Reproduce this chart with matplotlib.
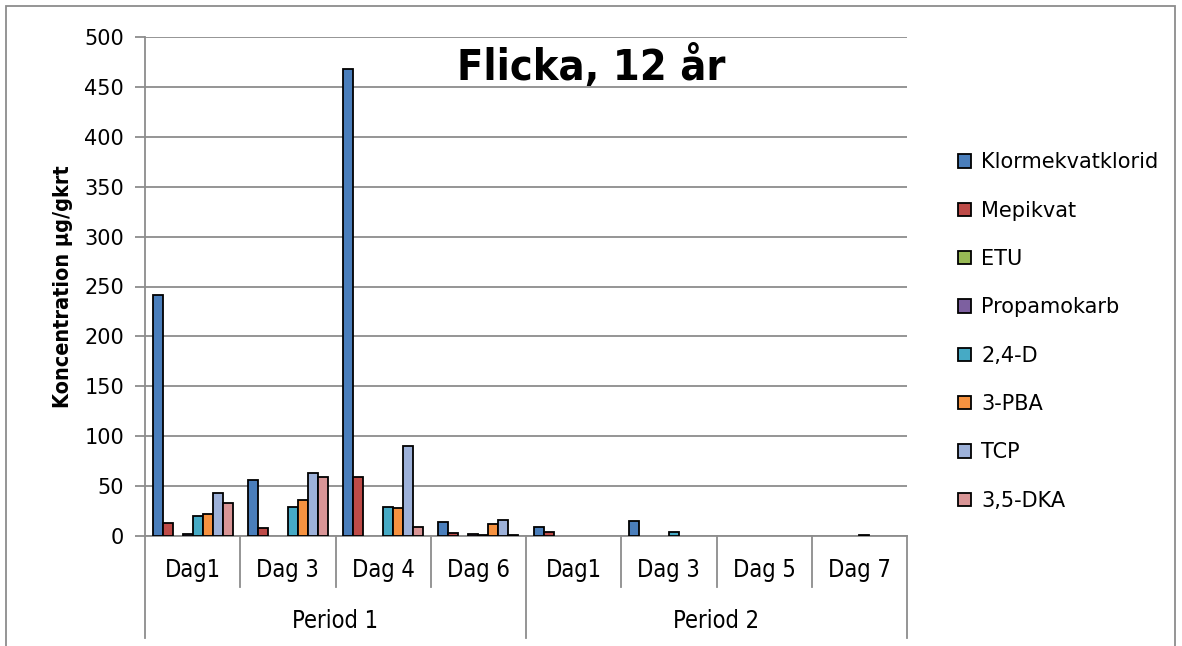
import numpy as np
import matplotlib.pyplot as plt
from matplotlib.patches import Rectangle
import matplotlib.transforms as mtransforms

dagar = ["Dag1", "Dag 3", "Dag 4", "Dag 6", "Dag1", "Dag 3", "Dag 5", "Dag 7"]
perioder = ["Period 1", "Period 2"]
serier = ["Klormekvatklorid", "Mepikvat", "ETU", "Propamokarb",
          "2,4-D", "3-PBA", "TCP", "3,5-DKA"]

klormekvat = [241, 56, 468, 14, 9, 15, 0, 0]
mepikvat = [13, 8, 59, 3, 4, 0, 0, 0]
etu = [0, 0, 0, 0, 0, 0, 0, 0]
propamokarb = [2, 0, 0, 2.5, 0, 0, 0, 0]
d24 = [20, 29, 29, 1.5, 0, 4, 0, 1]
pba = [22, 36, 28, 12, 0, 0, 0, 0]
tcp = [43, 63, 90, 16, 0, 0, 0, 0]
dka = [33, 59, 9, 1, 0, 0, 0, 0]

farger = ["#4A7EBB", "#BE4B48", "#98B954", "#7D60A0",
          "#46AAC5", "#F69240", "#9DB1D9", "#D99596"]

grid_col = "#8C8C8C"

fig = plt.figure(figsize=(11.82, 6.46), dpi=100)
ax = fig.add_axes([145/1182, 1-536/646, (907-145)/1182, (536-37)/646])

data = [klormekvat, mepikvat, etu, propamokarb, d24, pba, tcp, dka]
x = np.arange(len(dagar))
w = 0.105
for i, (namn, vals) in enumerate(zip(serier, data)):
    vals = np.array(vals, dtype=float)
    vals[vals == 0] = np.nan  # nollvärden ritas inte
    ax.bar(x - 0.84/2 + w/2 + i*w, vals, width=w, color=farger[i],
           edgecolor="black", linewidth=1.3, label=namn, zorder=3)

ax.set_xlim(-0.5, 7.5)
ax.set_ylim(0, 500)
ax.set_yticks(range(0, 501, 50))
ax.yaxis.grid(True, color=grid_col, linewidth=1.3, zorder=0)
ax.set_xticks([])
for s in ["top", "right", "left"]:
    ax.spines[s].set_visible(False)
ax.spines["bottom"].set_color(grid_col)
ax.spines["bottom"].set_linewidth(1.3)
ax.tick_params(axis="y", length=7, width=1.3, color=grid_col, labelsize=15, pad=8)

# kategoriaxel i två nivåer
trans = mtransforms.blended_transform_factory(ax.transData, ax.transAxes)
for k in range(len(dagar) + 1):
    pos = k - 0.5
    lang = k in (0, 4, 8)
    topp = 1 if k == 0 else 0
    ax.plot([pos, pos], [topp, -0.205 if lang else -0.102], transform=trans,
            color=grid_col, linewidth=1.3, clip_on=False, zorder=1)
for i, d in enumerate(dagar):
    ax.text(i, -0.068, d, transform=trans, ha="center", va="center",
            fontsize=17, fontstretch="condensed")
for j, p in enumerate(perioder):
    ax.text(1.5 + 4*j, -0.17, p, transform=trans, ha="center", va="center",
            fontsize=17, fontstretch="condensed")

ax.set_ylabel("Koncentration µg/gkrt", fontsize=15.5, fontweight="bold",
              fontstretch="condensed", labelpad=8)

ax.text(591, 470, "Flicka, 12 år", ha="center", va="center",
        transform=mtransforms.blended_transform_factory(
            mtransforms.IdentityTransform(), ax.transData),
        fontsize=31, fontweight="bold", fontstretch="condensed")

ax.legend(loc="upper left", bbox_to_anchor=(948/1182, 1-142/646),
          bbox_transform=fig.transFigure, frameon=False, fontsize=15,
          handlelength=0.6, handleheight=0.6, handletextpad=0.5,
          labelspacing=1.36, borderpad=0)

fig.patches.append(Rectangle((6/1182, -0.02), (1175-6)/1182, 1.02-6/646,
                             transform=fig.transFigure, fill=False,
                             edgecolor=grid_col, linewidth=1.3))

fig.savefig("out.png", dpi=100)
